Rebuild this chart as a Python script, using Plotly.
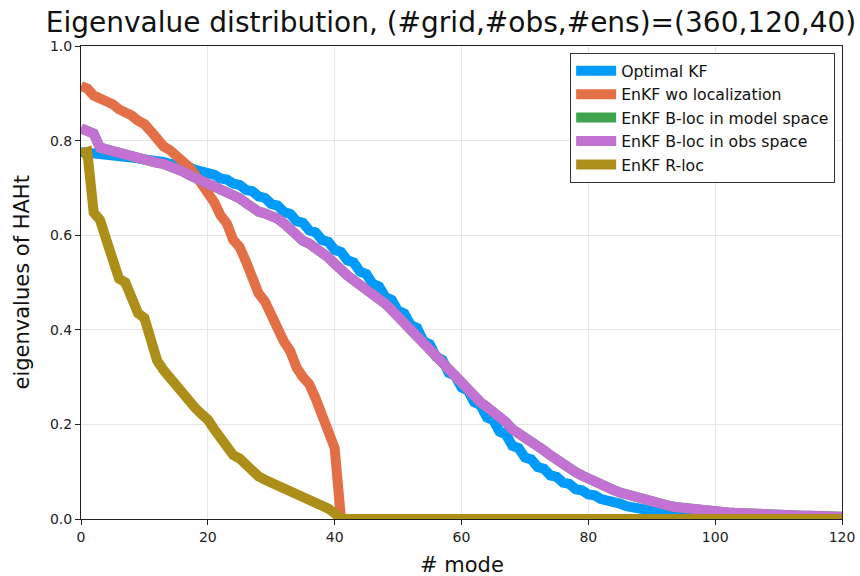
import plotly.graph_objects as go

# ---------------- data ----------------
modes = list(range(121))

optimal_kf = [
    0.776, 0.775, 0.772, 0.7714, 0.769, 0.7684, 0.766, 0.7654, 0.763, 0.7624,
    0.760, 0.7592, 0.756, 0.755, 0.751, 0.7498, 0.745, 0.7436, 0.738, 0.7364,
    0.730, 0.728, 0.720, 0.7178, 0.709, 0.7064, 0.696, 0.6932, 0.682, 0.6788,
    0.666, 0.6626, 0.649, 0.6452, 0.630, 0.626, 0.610, 0.606, 0.590, 0.5858,
    0.569, 0.5646, 0.547, 0.5422, 0.523, 0.5178, 0.497, 0.4914, 0.469, 0.4632,
    0.440, 0.434, 0.410, 0.4036, 0.376, 0.3694, 0.343, 0.3362, 0.309, 0.3028,
    0.278, 0.2718, 0.247, 0.2406, 0.215, 0.209, 0.185, 0.179, 0.155, 0.150,
    0.130, 0.126, 0.110, 0.1064, 0.092, 0.089, 0.077, 0.0742, 0.063, 0.0608,
    0.052, 0.050, 0.042, 0.0404, 0.034, 0.0326, 0.027, 0.0258, 0.021, 0.020,
    0.016, 0.0152, 0.012, 0.0114, 0.009, 0.0086, 0.007, 0.0066, 0.005, 0.0048,
    0.0040, 0.0038, 0.0032, 0.0031, 0.0025, 0.0024, 0.0020, 0.0019, 0.0015, 0.0014,
    0.0010, 0.0010, 0.0008, 0.0008, 0.0006, 0.0006, 0.0005, 0.0005, 0.0004, 0.0004,
    0.0003,
]

enkf_no_loc = [
    0.915, 0.910, 0.895, 0.890, 0.885, 0.877, 0.866, 0.862, 0.853, 0.842,
    0.835, 0.820, 0.800, 0.788, 0.780, 0.770, 0.760, 0.745, 0.728, 0.710,
    0.695, 0.670, 0.642, 0.625, 0.590, 0.575, 0.545, 0.510, 0.477, 0.460,
    0.430, 0.400, 0.375, 0.355, 0.320, 0.300, 0.285, 0.255, 0.220, 0.180,
    0.150, 0.0,
    0.0, 0.0, 0.0, 0.0, 0.0, 0.0, 0.0, 0.0, 0.0, 0.0,
    0.0, 0.0, 0.0, 0.0, 0.0, 0.0, 0.0, 0.0, 0.0, 0.0,
    0.0, 0.0, 0.0, 0.0, 0.0, 0.0, 0.0, 0.0, 0.0, 0.0,
    0.0, 0.0, 0.0, 0.0, 0.0, 0.0, 0.0, 0.0, 0.0, 0.0,
    0.0, 0.0, 0.0, 0.0, 0.0, 0.0, 0.0, 0.0, 0.0, 0.0,
    0.0, 0.0, 0.0, 0.0, 0.0, 0.0, 0.0, 0.0, 0.0, 0.0,
    0.0, 0.0, 0.0, 0.0, 0.0, 0.0, 0.0, 0.0, 0.0, 0.0,
    0.0, 0.0, 0.0, 0.0, 0.0, 0.0, 0.0, 0.0, 0.0,
]

bloc_obs_space = [
    0.826, 0.823, 0.815, 0.785, 0.781, 0.779, 0.777, 0.772, 0.766, 0.762,
    0.758, 0.755, 0.753, 0.751, 0.747, 0.742, 0.735, 0.728, 0.722, 0.717,
    0.712, 0.706, 0.700, 0.694, 0.688, 0.678, 0.668, 0.658, 0.650, 0.646,
    0.642, 0.635, 0.625, 0.612, 0.595, 0.588, 0.582, 0.574, 0.565, 0.553,
    0.540, 0.525, 0.515, 0.505, 0.496, 0.487, 0.477, 0.467, 0.455, 0.442,
    0.428, 0.415, 0.402, 0.388, 0.373, 0.358, 0.345, 0.330, 0.313, 0.300,
    0.290, 0.276, 0.262, 0.247, 0.237, 0.228, 0.218, 0.205, 0.190, 0.182,
    0.175, 0.165, 0.155, 0.145, 0.135, 0.125, 0.115, 0.107, 0.099, 0.092,
    0.085, 0.078, 0.072, 0.066, 0.061, 0.056, 0.052, 0.047, 0.043, 0.039,
    0.035, 0.032, 0.029, 0.027, 0.025, 0.023, 0.021, 0.020, 0.018, 0.017,
    0.016, 0.015, 0.014, 0.013, 0.012, 0.012, 0.011, 0.011, 0.010, 0.010,
    0.009, 0.009, 0.008, 0.008, 0.007, 0.007, 0.007, 0.006, 0.006, 0.006,
    0.005,
]

# B-localisation in model space is indistinguishable from obs space (hidden beneath it)
bloc_model_space = [
    0.826, 0.823, 0.815, 0.785, 0.781, 0.779, 0.777, 0.772, 0.766, 0.762,
    0.758, 0.755, 0.753, 0.751, 0.747, 0.742, 0.735, 0.728, 0.722, 0.717,
    0.712, 0.706, 0.700, 0.694, 0.688, 0.678, 0.668, 0.658, 0.650, 0.646,
    0.642, 0.635, 0.625, 0.612, 0.595, 0.588, 0.582, 0.574, 0.565, 0.553,
    0.540, 0.525, 0.515, 0.505, 0.496, 0.487, 0.477, 0.467, 0.455, 0.442,
    0.428, 0.415, 0.402, 0.388, 0.373, 0.358, 0.345, 0.330, 0.313, 0.300,
    0.290, 0.276, 0.262, 0.247, 0.237, 0.228, 0.218, 0.205, 0.190, 0.182,
    0.175, 0.165, 0.155, 0.145, 0.135, 0.125, 0.115, 0.107, 0.099, 0.092,
    0.085, 0.078, 0.072, 0.066, 0.061, 0.056, 0.052, 0.047, 0.043, 0.039,
    0.035, 0.032, 0.029, 0.027, 0.025, 0.023, 0.021, 0.020, 0.018, 0.017,
    0.016, 0.015, 0.014, 0.013, 0.012, 0.012, 0.011, 0.011, 0.010, 0.010,
    0.009, 0.009, 0.008, 0.008, 0.007, 0.007, 0.007, 0.006, 0.006, 0.006,
    0.005,
]

enkf_rloc = [
    0.772, 0.776, 0.648, 0.632, 0.590, 0.550, 0.508, 0.500, 0.465, 0.435,
    0.425, 0.370, 0.335, 0.315, 0.298, 0.280, 0.265, 0.248, 0.235, 0.222,
    0.210, 0.190, 0.170, 0.155, 0.135, 0.128, 0.115, 0.100, 0.090, 0.083,
    0.077, 0.070, 0.063, 0.058, 0.053, 0.048, 0.042, 0.036, 0.030, 0.022,
    0.012,
    0.0, 0.0, 0.0, 0.0, 0.0, 0.0, 0.0, 0.0, 0.0, 0.0,
    0.0, 0.0, 0.0, 0.0, 0.0, 0.0, 0.0, 0.0, 0.0, 0.0,
    0.0, 0.0, 0.0, 0.0, 0.0, 0.0, 0.0, 0.0, 0.0, 0.0,
    0.0, 0.0, 0.0, 0.0, 0.0, 0.0, 0.0, 0.0, 0.0, 0.0,
    0.0, 0.0, 0.0, 0.0, 0.0, 0.0, 0.0, 0.0, 0.0, 0.0,
    0.0, 0.0, 0.0, 0.0, 0.0, 0.0, 0.0, 0.0, 0.0, 0.0,
    0.0, 0.0, 0.0, 0.0, 0.0, 0.0, 0.0, 0.0, 0.0, 0.0,
    0.0, 0.0, 0.0, 0.0, 0.0, 0.0, 0.0, 0.0, 0.0, 0.0,
]

series_names = [
    "Optimal KF",
    "EnKF wo localization",
    "EnKF B-loc in model space",
    "EnKF B-loc in obs space",
    "EnKF R-loc",
]
series_values = [optimal_kf, enkf_no_loc, bloc_model_space, bloc_obs_space, enkf_rloc]
series_colors = ["#009AFA", "#E36F47", "#3EA44E", "#C371D2", "#AC8E18"]

x_ticks = [0, 20, 40, 60, 80, 100, 120]
y_ticks = [0.0, 0.2, 0.4, 0.6, 0.8, 1.0]

# ---------------- figure ----------------
FONT = "DejaVu Sans"
fig = go.Figure()
for name, vals, col in zip(series_names, series_values, series_colors):
    fig.add_trace(go.Scatter(
        x=modes, y=vals, mode="lines", name=name,
        line=dict(color=col, width=10),
    ))

axis_common = dict(
    showline=True, linecolor="#222222", linewidth=1, mirror=True,
    ticks="outside", ticklen=5, tickcolor="#222222", tickwidth=1,
    showgrid=True, gridcolor="#e6e6e6", gridwidth=1.2,
    zeroline=False, automargin=False,
    tickfont=dict(family=FONT, size=14, color="#222222"),
)

fig.update_layout(
    width=860, height=576,
    margin=dict(l=81, r=18, t=46, b=57, autoexpand=False),
    paper_bgcolor="white", plot_bgcolor="white",
    font=dict(family=FONT, color="#111111"),
    title=dict(
        text="Eigenvalue distribution, (#grid,#obs,#ens)=(360,120,40)",
        x=451 / 860, xref="container", xanchor="center",
        y=1 - 22 / 576, yref="container", yanchor="middle",
        font=dict(family=FONT, size=28, color="#111111"),
        automargin=False,
    ),
    xaxis=dict(range=[0, 120], tickvals=x_ticks, **axis_common),
    yaxis=dict(range=[0, 1], tickvals=y_ticks, tickformat=".1f", **axis_common),
    legend=dict(
        x=0.991, y=0.985, xanchor="right", yanchor="top",
        bgcolor="white", bordercolor="#333333", borderwidth=1,
        font=dict(family=FONT, size=15.7, color="#111111"),
        itemwidth=40, tracegroupgap=0,
    ),
    annotations=[
        dict(text="# mode", xref="paper", yref="paper", x=0.5, y=(519 - 565) / 473,
             xanchor="center", yanchor="middle", showarrow=False,
             font=dict(family=FONT, size=21, color="#111111")),
        dict(text="eigenvalues of HAHt", xref="paper", yref="paper",
             x=(21 - 81) / 761, y=0.5, xanchor="center", yanchor="middle",
             textangle=-90, showarrow=False,
             font=dict(family=FONT, size=21, color="#111111")),
    ],
    showlegend=True,
)

fig.write_html("out.html")
